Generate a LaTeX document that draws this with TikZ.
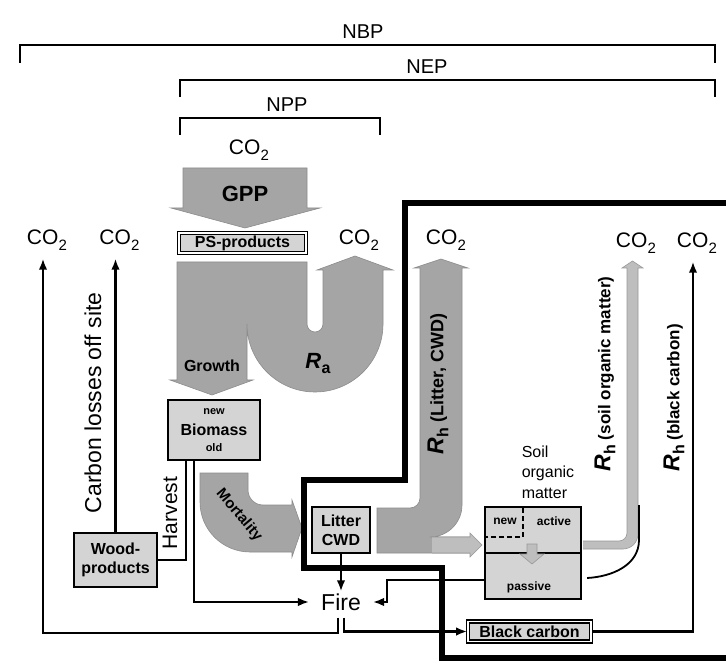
\documentclass[tikz,border=0pt]{standalone}
\usepackage{fontspec}
\setmainfont{Liberation Sans}
\usetikzlibrary{arrows.meta}
\definecolor{flowgray}{RGB}{165,165,165}
\definecolor{boxgray}{RGB}{212,212,212}
\definecolor{lightflow}{RGB}{190,190,190}
\newcommand{\cotwo}{CO\kern0.3pt\raisebox{-0.3em}{\fontsize{15}{15}\selectfont 2}}
\newcommand{\Rh}{{\fontsize{23}{23}\selectfont\bfseries\itshape R}\kern0.3pt\raisebox{-5pt}{\fontsize{16}{16}\selectfont\bfseries h}}
\newcommand{\Ra}{{\fontsize{22}{22}\selectfont\bfseries\itshape R}\kern0.3pt\raisebox{-5pt}{\fontsize{16}{16}\selectfont\bfseries a}}
\begin{document}
\begin{tikzpicture}[x=1pt,y=1pt,
 lbl/.style={font=\fontsize{20}{24}\selectfont, inner sep=1pt},
 co/.style={font=\fontsize{21}{24}\selectfont, inner sep=2pt},
 bx/.style={draw=black, line width=2.4pt, fill=boxgray, inner sep=0pt, align=center, font=\bfseries\fontsize{15}{17}\selectfont},
 dbx/.style={draw=black, line width=1.7pt, double=white, double distance=1.1pt, fill=boxgray, inner sep=0pt, font=\bfseries\fontsize{16}{18}\selectfont},
 flow/.style={fill=flowgray, draw=black!45, line width=0.6pt},
 lflow/.style={fill=lightflow, draw=black!40, line width=0.6pt},
 brk/.style={line width=2.4pt},
 ln/.style={line width=2.1pt},
 arr/.style={ln, -{Latex[length=11pt,width=8.5pt]}},
 bound/.style={line width=6.5pt, line join=miter},
 smalltxt/.style={font=\bfseries\fontsize{11}{12}\selectfont, inner sep=0pt},
 soiltxt/.style={font=\bfseries\fontsize{12}{13}\selectfont, inner sep=0pt},
 rot/.style={rotate=90, inner sep=0pt, font=\bfseries\fontsize{17}{19}\selectfont},
]
\useasboundingbox (0,0) rectangle (726,-668);
\fill[white] (0,0) rectangle (726,-668);

% brackets
\node[lbl] (nbp) at (363,-32) {NBP};
\node[lbl] (nep) at (427,-67) {NEP};
\node[lbl] (npp) at (287,-105) {NPP};
\draw[brk] (20,-63) |- (715,-45) -- (715,-63);
\draw[brk] (180,-97) |- (715,-80) -- (715,-97);
\draw[brk] (180,-135) |- (380,-118) -- (380,-135);

% GPP
\node[co] (co2top) at (249,-150) {\cotwo};
\draw[flow] (183,-168) -- (307,-168) -- (307,-208) -- (320,-208) -- (245,-228) -- (171,-208) -- (183,-208) -- cycle;
\node[font=\bfseries\fontsize{22}{24}\selectfont] (gpp) at (245,-194) {GPP};
\node[dbx, minimum width=127pt, minimum height=20pt] (ps) at (242.5,-243) {PS-products};

% Growth and Ra
\draw[flow] (177,-262) -- (307,-262) -- (307,-324) arc[start angle=180,end angle=360,radius=8] -- (323,-270) -- (317,-270) -- (355,-256) -- (393,-270) -- (383,-270) -- (383,-324) arc[start angle=0,end angle=-180,radius=68] -- (247,-380) -- (253,-380) -- (212,-395) -- (170,-380) -- (177,-380) -- cycle;
\node[co] (co2ra) at (359,-240) {\cotwo};
\node[font=\bfseries\fontsize{16}{18}\selectfont] (growth) at (212,-366) {Growth};
\node[inner sep=0pt] (ra) at (318,-364) {\Ra};

% Biomass
\node[bx, minimum width=92pt, minimum height=60pt, font=\bfseries\fontsize{16}{18}\selectfont] (bio) at (214,-430) {Biomass};
\node[smalltxt] (bnew) at (214,-412) {new};
\node[smalltxt] (bold) at (214,-448) {old};

% Mortality
\draw[flow] (200,-473) -- (248,-473) -- (248,-490) arc[start angle=180,end angle=270,radius=15] -- (292,-505) -- (292,-500) -- (302,-528) -- (292,-557) -- (292,-552) -- (250,-552) arc[start angle=270,end angle=180,radius=50] -- cycle;
\node[rotate=-50, font=\bfseries\fontsize{15}{16}\selectfont, inner sep=0pt] (mort) at (239,-515) {Mortality};

% Rh litter flow
\draw[flow] (377,-508) -- (410,-508) arc[start angle=270,end angle=360,radius=10] -- (420,-268) -- (414,-268) -- (441,-259) -- (468,-268) -- (462,-268) -- (462,-505) arc[start angle=0,end angle=-90,radius=32] -- (470,-537) -- (470,-553) -- (377,-553) -- cycle;
\draw[lflow] (432,-537) -- (470,-537) -- (470,-533) -- (482,-545) -- (470,-557) -- (470,-553) -- (432,-553);
\node[co] (co2rh) at (446,-240) {\cotwo};
\node[rot, font=\bfseries\fontsize{18}{20}\selectfont] (rhl) at (438,-384) {\Rh\ (Litter, CWD)};

% Litter box
\node[bx, minimum width=58pt, minimum height=46pt, font=\bfseries\fontsize{16}{19}\selectfont] (litter) at (341,-530) {Litter\\CWD};

% Soil organic matter
\draw[lflow] (583,-541) -- (619,-541) arc[start angle=270,end angle=360,radius=8] -- (627,-268) -- (622,-268) -- (632.5,-261) -- (643,-268) -- (638,-268) -- (638,-534) arc[start angle=0,end angle=-90,radius=15] -- (583,-549);
\node[co] (co2c) at (636,-243) {\cotwo};
\node[rot] (rhs) at (605,-374) {\Rh\ (soil organic matter)};
\node[align=left, font=\fontsize{16}{20.5}\selectfont, inner sep=0pt] (somlbl) at (548,-472) {Soil\\organic\\matter};
\node[draw, line width=2.2pt, fill=boxgray, minimum width=96pt, minimum height=92pt, inner sep=0pt] (soil) at (533,-553) {};
\draw[ln] (soil.west) -- (soil.east);
\draw[line width=1.8pt, dash pattern=on 5pt off 3pt] (523,-508) -- (523,-537) -- (486,-537);
\draw[lflow] (527,-544) -- (537,-544) -- (537,-554) -- (544,-554) -- (532,-564) -- (520,-554) -- (527,-554) -- cycle;
\node[soiltxt] (snew) at (505,-521) {new};
\node[soiltxt] (sact) at (554,-521) {active};
\node[soiltxt] (spas) at (529,-587) {passive};
\draw[line width=1.8pt] ([xshift=5pt,yshift=-25pt]soil.east) to[out=3,in=-90] (639,-540) -- (639,-505);

% Black carbon
\node[dbx, minimum width=123pt, minimum height=20pt] (bc) at (529.5,-631.5) {Black carbon};
\node[co] (co2d) at (697,-243) {\cotwo};
\node[rot] (rhb) at (674,-398) {\Rh\ (black carbon)};

% Wood products, harvest, losses
\node[bx, minimum width=83pt, minimum height=54pt, font=\bfseries\fontsize{16}{19}\selectfont] (wood) at (115.5,-560) {Wood-\\products};
\node[co] (co2a) at (47,-240) {\cotwo};
\node[co] (co2b) at (119.5,-240) {\cotwo};
\node[rotate=90, font=\fontsize{23}{25}\selectfont, inner sep=0pt] (closs) at (93,-403) {Carbon losses off site};
\node[rotate=90, font=\fontsize{21}{24}\selectfont, inner sep=0pt] (harv) at (170,-513) {Harvest};

% Fire
\node[font=\fontsize{23}{25}\selectfont, inner xsep=12pt, inner ysep=2pt] (fire) at (341,-602) {Fire};
\coordinate (cornerL) at (43,-633);

\draw[arr, shorten >=6pt] (wood.north) -- ([xshift=-4pt]co2b.south);
\draw[ln] ([xshift=-28pt]bio.south) |- (wood.east);
\draw[arr] ([xshift=-20pt]bio.south) |- (fire.west);
\draw[arr] (litter.south) -- (fire.north);
\draw[arr] ([yshift=-27pt]soil.west) -| ([xshift=14pt]fire.east) -- (fire.east);
\draw[arr, shorten >=6pt] ([xshift=-3pt,yshift=-5pt]fire.south) |- (cornerL) -- ([xshift=-4pt]co2a.south);
\draw[arr] ([xshift=3pt,yshift=-5pt]fire.south) |- (bc.west);
\draw[arr, shorten >=6pt] (bc.east) -| ([xshift=-4pt]co2d.south);

% thick boundary
\draw[bound] (730,-203) -- (405,-203) -- (405,-480) -- (304,-480) -- (304,-568) -- (442,-568) -- (442,-658) -- (730,-658);
\end{tikzpicture}
\end{document}
